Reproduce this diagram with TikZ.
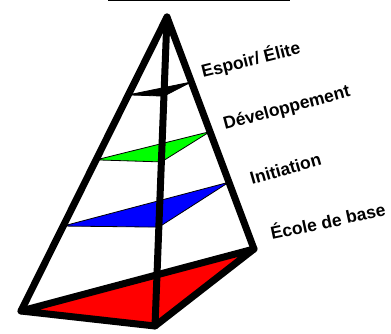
\documentclass[tikz,border=0pt]{standalone}
\usepackage{fontspec}
\setmainfont{Liberation Sans}
\usepackage{tikz}
\usetikzlibrary{calc}
\tikzset{
  edge/.style={line width=7pt, line join=round, line cap=round},
  slice/.style={draw=black, line width=0.8pt, line join=round},
  level/.style={font=\bfseries\fontsize{17.5}{20}\selectfont, inner sep=0pt, anchor=base west}
}

\begin{document}
\begin{tikzpicture}[x=1pt,y=-1pt]
  \useasboundingbox (0,0) rectangle (391,333);
  \coordinate (rule west) at (108,0.6);
  \coordinate (rule east) at (290,0.6);
  \draw[line width=1.2pt] (rule west) -- (rule east);
  \coordinate (apex) at (167,17);
  \coordinate (left) at (21,311);
  \coordinate (front) at (155,326);
  \coordinate (right) at (254,249);
  % slices, bottom one is the base
  \foreach \tl/\tf/\tr/\col in {0.265/0.256/0.28/black,0.486/0.469/0.494/green,0.711/0.68/0.712/blue,1/1/1/red}{
    \draw[slice, fill=\col] ($(apex)!\tl!(left)$) -- ($(apex)!\tf!(front)$) -- ($(apex)!\tr!(right)$) -- cycle;}
  \draw[edge] (left) -- (apex) -- (right);
  \draw[edge] (apex) -- (front);
  \draw[edge] (left) -- (front) -- (right) -- cycle;
  \node[level, rotate=14] (elite) at (203,78) {Espoir/ Élite};
  \node[level, rotate=15] (dev) at (225,130) {Développement};
  \node[level, rotate=16] (init) at (252,185) {Initiation};
  \node[level, rotate=12] (ecole) at (272,240) {École de base};
\end{tikzpicture}
\end{document}
